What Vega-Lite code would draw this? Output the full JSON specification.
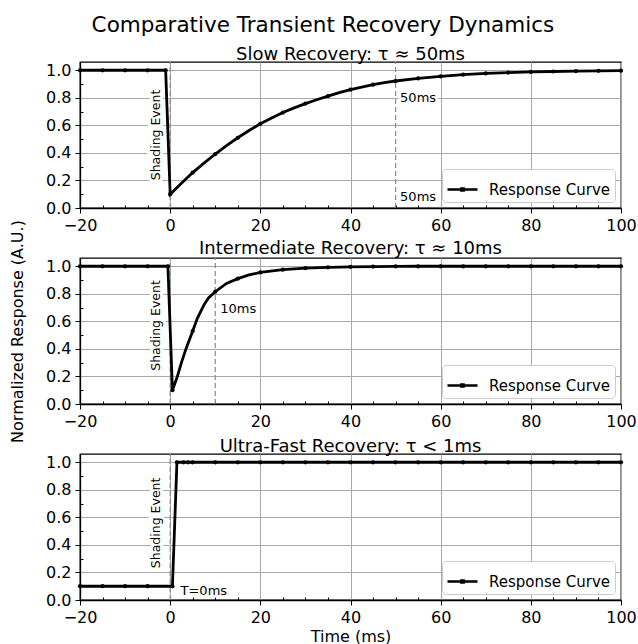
{
  "$schema": "https://vega.github.io/schema/vega-lite/v6.json",
  "padding": {"left": 8, "top": 15, "right": 4, "bottom": 2},
  "title": {"text": "Comparative Transient Recovery Dynamics", "fontSize": 21.5, "anchor": "middle", "offset": 9},
  "bounds": "flush",
  "datasets": {
    "curve": [
      {"panel": "slow", "t": -20, "y": 1.0}, {"panel": "slow", "t": -15, "y": 1.0}, {"panel": "slow", "t": -10, "y": 1.0}, {"panel": "slow", "t": -5, "y": 1.0}, {"panel": "slow", "t": -1, "y": 1.0},
      {"panel": "slow", "t": 0, "y": 0.1}, {"panel": "slow", "t": 2.5, "y": 0.18}, {"panel": "slow", "t": 5, "y": 0.257}, {"panel": "slow", "t": 7.5, "y": 0.326}, {"panel": "slow", "t": 10, "y": 0.392},
      {"panel": "slow", "t": 12.5, "y": 0.453}, {"panel": "slow", "t": 15, "y": 0.51}, {"panel": "slow", "t": 17.5, "y": 0.563}, {"panel": "slow", "t": 20, "y": 0.611}, {"panel": "slow", "t": 22.5, "y": 0.653},
      {"panel": "slow", "t": 25, "y": 0.693}, {"panel": "slow", "t": 27.5, "y": 0.727}, {"panel": "slow", "t": 30, "y": 0.758}, {"panel": "slow", "t": 32.5, "y": 0.786}, {"panel": "slow", "t": 35, "y": 0.812},
      {"panel": "slow", "t": 37.5, "y": 0.837}, {"panel": "slow", "t": 40, "y": 0.859}, {"panel": "slow", "t": 42.5, "y": 0.878}, {"panel": "slow", "t": 45, "y": 0.895}, {"panel": "slow", "t": 47.5, "y": 0.91},
      {"panel": "slow", "t": 50, "y": 0.922}, {"panel": "slow", "t": 55, "y": 0.941}, {"panel": "slow", "t": 60, "y": 0.956}, {"panel": "slow", "t": 65, "y": 0.968}, {"panel": "slow", "t": 70, "y": 0.977},
      {"panel": "slow", "t": 75, "y": 0.983}, {"panel": "slow", "t": 80, "y": 0.988}, {"panel": "slow", "t": 85, "y": 0.991}, {"panel": "slow", "t": 90, "y": 0.994}, {"panel": "slow", "t": 95, "y": 0.996}, {"panel": "slow", "t": 100, "y": 0.997},
      {"panel": "mid", "t": -20, "y": 1.0}, {"panel": "mid", "t": -15, "y": 1.0}, {"panel": "mid", "t": -10, "y": 1.0}, {"panel": "mid", "t": -5, "y": 1.0}, {"panel": "mid", "t": -0.5, "y": 1.0},
      {"panel": "mid", "t": 0.5, "y": 0.1}, {"panel": "mid", "t": 1.5, "y": 0.19}, {"panel": "mid", "t": 2.5, "y": 0.3}, {"panel": "mid", "t": 3.5, "y": 0.4}, {"panel": "mid", "t": 5, "y": 0.53},
      {"panel": "mid", "t": 6, "y": 0.62}, {"panel": "mid", "t": 7.5, "y": 0.72}, {"panel": "mid", "t": 8.5, "y": 0.77}, {"panel": "mid", "t": 10, "y": 0.815}, {"panel": "mid", "t": 12.5, "y": 0.875},
      {"panel": "mid", "t": 15, "y": 0.91}, {"panel": "mid", "t": 17.5, "y": 0.937}, {"panel": "mid", "t": 20, "y": 0.955}, {"panel": "mid", "t": 25, "y": 0.975}, {"panel": "mid", "t": 30, "y": 0.986},
      {"panel": "mid", "t": 35, "y": 0.992}, {"panel": "mid", "t": 40, "y": 0.996}, {"panel": "mid", "t": 45, "y": 0.998}, {"panel": "mid", "t": 50, "y": 0.999}, {"panel": "mid", "t": 55, "y": 1.0},
      {"panel": "mid", "t": 60, "y": 1.0}, {"panel": "mid", "t": 65, "y": 1.0}, {"panel": "mid", "t": 70, "y": 1.0}, {"panel": "mid", "t": 75, "y": 1.0}, {"panel": "mid", "t": 80, "y": 1.0},
      {"panel": "mid", "t": 85, "y": 1.0}, {"panel": "mid", "t": 90, "y": 1.0}, {"panel": "mid", "t": 95, "y": 1.0}, {"panel": "mid", "t": 100, "y": 1.0},
      {"panel": "fast", "t": -20, "y": 0.1}, {"panel": "fast", "t": -15, "y": 0.1}, {"panel": "fast", "t": -10, "y": 0.1}, {"panel": "fast", "t": -5, "y": 0.1}, {"panel": "fast", "t": 0.5, "y": 0.1},
      {"panel": "fast", "t": 1.5, "y": 1.0}, {"panel": "fast", "t": 3, "y": 1.0}, {"panel": "fast", "t": 4, "y": 1.0}, {"panel": "fast", "t": 5, "y": 1.0}, {"panel": "fast", "t": 10, "y": 1.0},
      {"panel": "fast", "t": 15, "y": 1.0}, {"panel": "fast", "t": 20, "y": 1.0}, {"panel": "fast", "t": 25, "y": 1.0}, {"panel": "fast", "t": 30, "y": 1.0}, {"panel": "fast", "t": 35, "y": 1.0},
      {"panel": "fast", "t": 40, "y": 1.0}, {"panel": "fast", "t": 45, "y": 1.0}, {"panel": "fast", "t": 50, "y": 1.0}, {"panel": "fast", "t": 55, "y": 1.0}, {"panel": "fast", "t": 60, "y": 1.0},
      {"panel": "fast", "t": 65, "y": 1.0}, {"panel": "fast", "t": 70, "y": 1.0}, {"panel": "fast", "t": 75, "y": 1.0}, {"panel": "fast", "t": 80, "y": 1.0}, {"panel": "fast", "t": 85, "y": 1.0},
      {"panel": "fast", "t": 90, "y": 1.0}, {"panel": "fast", "t": 95, "y": 1.0}, {"panel": "fast", "t": 100, "y": 1.0}
    ],
    "vlines": [
      {"panel": "slow", "t": 0, "ymin": 0, "ymax": 1.06}, {"panel": "slow", "t": 50, "ymin": 0, "ymax": 1.06},
      {"panel": "mid", "t": 0, "ymin": 0, "ymax": 1.06}, {"panel": "mid", "t": 10, "ymin": 0, "ymax": 1.06},
      {"panel": "fast", "t": 0, "ymin": 0, "ymax": 1.06}
    ],
    "vnotes": [
      {"panel": "slow", "t": -3.1, "y": 0.53, "label": "Shading Event"},
      {"panel": "mid", "t": -3.1, "y": 0.57, "label": "Shading Event"},
      {"panel": "fast", "t": -3.1, "y": 0.56, "label": "Shading Event"}
    ],
    "hnotes": [
      {"panel": "slow", "t": 51, "y": 0.8, "label": "50ms"},
      {"panel": "slow", "t": 51, "y": 0.08, "label": "50ms"},
      {"panel": "mid", "t": 11.1, "y": 0.69, "label": "10ms"},
      {"panel": "fast", "t": 2.3, "y": 0.067, "label": "T=0ms"}
    ]
  },
  "spacing": 50,
  "resolve": {"scale": {"color": "independent"}, "legend": {"color": "independent"}},
  "vconcat": [
    {
      "title": {"text": "Slow Recovery: τ ≈ 50ms", "offset": -3},
      "width": 541, "height": 146,
      "encoding": {
        "x": {"field": "t", "type": "quantitative", "scale": {"domain": [-20, 100], "nice": false},
              "axis": {"title": null, "values": [-20,-15,-10,-5,0,5,10,15,20,25,30,35,40,45,50,55,60,65,70,75,80,85,90,95,100],
                       "labelExpr": "datum.value % 20 === 0 ? datum.label : ''",
                       "tickSize": {"condition": {"test": "datum.value % 20 === 0", "value": 5}, "value": -3},
                       "gridOpacity": {"condition": {"test": "datum.value % 20 === 0", "value": 1}, "value": 0}}},
        "y": {"field": "y", "type": "quantitative", "scale": {"domain": [0, 1.06], "nice": false},
              "axis": {"title": null, "values": [0,0.1,0.2,0.3,0.4,0.5,0.6,0.7,0.8,0.9,1.0],
                       "labelExpr": "round(datum.value*10) % 2 === 0 ? format(datum.value, '.1f') : ''",
                       "tickSize": {"condition": {"test": "round(datum.value*10) % 2 === 0", "value": 5}, "value": -3},
                       "gridOpacity": {"condition": {"test": "round(datum.value*10) % 2 === 0", "value": 1}, "value": 0}}}
      },
      "layer": [
        {"data": {"name": "vlines"}, "transform": [{"filter": "datum.panel === 'slow'"}],
         "mark": {"type": "rule", "color": "#8a8a8a", "strokeDash": [5, 3], "strokeWidth": 1.2},
         "encoding": {"y": {"field": "ymin", "type": "quantitative"}, "y2": {"field": "ymax"}}},
        {"data": {"name": "vnotes"}, "transform": [{"filter": "datum.panel === 'slow'"}],
         "mark": {"type": "text", "angle": 270, "fontSize": 12.5, "stroke": "white", "strokeWidth": 6, "align": "center", "baseline": "middle"},
         "encoding": {"text": {"field": "label"}}},
        {"data": {"name": "hnotes"}, "transform": [{"filter": "datum.panel === 'slow'"}],
         "mark": {"type": "text", "fontSize": 13, "stroke": "white", "strokeWidth": 5, "align": "left", "baseline": "middle"},
         "encoding": {"text": {"field": "label"}}},
        {"data": {"name": "vnotes"}, "transform": [{"filter": "datum.panel === 'slow'"}],
         "mark": {"type": "text", "angle": 270, "fontSize": 12.5, "color": "black", "align": "center", "baseline": "middle"},
         "encoding": {"text": {"field": "label"}}},
        {"data": {"name": "hnotes"}, "transform": [{"filter": "datum.panel === 'slow'"}],
         "mark": {"type": "text", "fontSize": 13, "color": "black", "align": "left", "baseline": "middle"},
         "encoding": {"text": {"field": "label"}}},
        {"data": {"name": "curve"}, "transform": [{"filter": "datum.panel === 'slow'"}],
         "mark": {"type": "line", "strokeWidth": 2.8},
         "encoding": {"color": {"datum": "Response Curve", "scale": {"range": ["black"]}, "legend": {"title": null}}}},
        {"data": {"name": "curve"}, "transform": [{"filter": "datum.panel === 'slow'"}, {"filter": "datum.t % 5 === 0 || abs(datum.t) <= 1"}],
         "mark": {"type": "point", "filled": true, "size": 18, "color": "black", "opacity": 1},
         "encoding": {}}
      ]
    },
    {
      "title": {"text": "Intermediate Recovery: τ ≈ 10ms", "offset": -38},
      "width": 541, "height": 146,
      "encoding": {
        "x": {"field": "t", "type": "quantitative", "scale": {"domain": [-20, 100], "nice": false},
              "axis": {"title": null, "values": [-20,-15,-10,-5,0,5,10,15,20,25,30,35,40,45,50,55,60,65,70,75,80,85,90,95,100],
                       "labelExpr": "datum.value % 20 === 0 ? datum.label : ''",
                       "tickSize": {"condition": {"test": "datum.value % 20 === 0", "value": 5}, "value": -3},
                       "gridOpacity": {"condition": {"test": "datum.value % 20 === 0", "value": 1}, "value": 0}}},
        "y": {"field": "y", "type": "quantitative", "scale": {"domain": [0, 1.06], "nice": false},
              "axis": {"title": "Normalized Response (A.U.)", "titlePadding": 20, "values": [0,0.1,0.2,0.3,0.4,0.5,0.6,0.7,0.8,0.9,1.0],
                       "labelExpr": "round(datum.value*10) % 2 === 0 ? format(datum.value, '.1f') : ''",
                       "tickSize": {"condition": {"test": "round(datum.value*10) % 2 === 0", "value": 5}, "value": -3},
                       "gridOpacity": {"condition": {"test": "round(datum.value*10) % 2 === 0", "value": 1}, "value": 0}}}
      },
      "layer": [
        {"data": {"name": "vlines"}, "transform": [{"filter": "datum.panel === 'mid'"}],
         "mark": {"type": "rule", "color": "#8a8a8a", "strokeDash": [5, 3], "strokeWidth": 1.2},
         "encoding": {"y": {"field": "ymin", "type": "quantitative"}, "y2": {"field": "ymax"}}},
        {"data": {"name": "vnotes"}, "transform": [{"filter": "datum.panel === 'mid'"}],
         "mark": {"type": "text", "angle": 270, "fontSize": 12.5, "stroke": "white", "strokeWidth": 6, "align": "center", "baseline": "middle"},
         "encoding": {"text": {"field": "label"}}},
        {"data": {"name": "hnotes"}, "transform": [{"filter": "datum.panel === 'mid'"}],
         "mark": {"type": "text", "fontSize": 13, "stroke": "white", "strokeWidth": 5, "align": "left", "baseline": "middle"},
         "encoding": {"text": {"field": "label"}}},
        {"data": {"name": "vnotes"}, "transform": [{"filter": "datum.panel === 'mid'"}],
         "mark": {"type": "text", "angle": 270, "fontSize": 12.5, "color": "black", "align": "center", "baseline": "middle"},
         "encoding": {"text": {"field": "label"}}},
        {"data": {"name": "hnotes"}, "transform": [{"filter": "datum.panel === 'mid'"}],
         "mark": {"type": "text", "fontSize": 13, "color": "black", "align": "left", "baseline": "middle"},
         "encoding": {"text": {"field": "label"}}},
        {"data": {"name": "curve"}, "transform": [{"filter": "datum.panel === 'mid'"}],
         "mark": {"type": "line", "strokeWidth": 2.8},
         "encoding": {"color": {"datum": "Response Curve", "scale": {"range": ["black"]}, "legend": {"title": null}}}},
        {"data": {"name": "curve"}, "transform": [{"filter": "datum.panel === 'mid'"}, {"filter": "datum.t % 5 === 0 || abs(datum.t) <= 1"}],
         "mark": {"type": "point", "filled": true, "size": 18, "color": "black", "opacity": 1},
         "encoding": {}}
      ]
    },
    {
      "title": {"text": "Ultra-Fast Recovery: τ < 1ms", "offset": -3},
      "width": 541, "height": 146,
      "encoding": {
        "x": {"field": "t", "type": "quantitative", "scale": {"domain": [-20, 100], "nice": false},
              "axis": {"title": "Time (ms)", "titlePadding": 3, "values": [-20,-15,-10,-5,0,5,10,15,20,25,30,35,40,45,50,55,60,65,70,75,80,85,90,95,100],
                       "labelExpr": "datum.value % 20 === 0 ? datum.label : ''",
                       "tickSize": {"condition": {"test": "datum.value % 20 === 0", "value": 5}, "value": -3},
                       "gridOpacity": {"condition": {"test": "datum.value % 20 === 0", "value": 1}, "value": 0}}},
        "y": {"field": "y", "type": "quantitative", "scale": {"domain": [0, 1.06], "nice": false},
              "axis": {"title": null, "values": [0,0.1,0.2,0.3,0.4,0.5,0.6,0.7,0.8,0.9,1.0],
                       "labelExpr": "round(datum.value*10) % 2 === 0 ? format(datum.value, '.1f') : ''",
                       "tickSize": {"condition": {"test": "round(datum.value*10) % 2 === 0", "value": 5}, "value": -3},
                       "gridOpacity": {"condition": {"test": "round(datum.value*10) % 2 === 0", "value": 1}, "value": 0}}}
      },
      "layer": [
        {"data": {"name": "vlines"}, "transform": [{"filter": "datum.panel === 'fast'"}],
         "mark": {"type": "rule", "color": "#8a8a8a", "strokeDash": [5, 3], "strokeWidth": 1.2},
         "encoding": {"y": {"field": "ymin", "type": "quantitative"}, "y2": {"field": "ymax"}}},
        {"data": {"name": "vnotes"}, "transform": [{"filter": "datum.panel === 'fast'"}],
         "mark": {"type": "text", "angle": 270, "fontSize": 12.5, "stroke": "white", "strokeWidth": 6, "align": "center", "baseline": "middle"},
         "encoding": {"text": {"field": "label"}}},
        {"data": {"name": "hnotes"}, "transform": [{"filter": "datum.panel === 'fast'"}],
         "mark": {"type": "text", "fontSize": 13, "stroke": "white", "strokeWidth": 5, "align": "left", "baseline": "middle"},
         "encoding": {"text": {"field": "label"}}},
        {"data": {"name": "vnotes"}, "transform": [{"filter": "datum.panel === 'fast'"}],
         "mark": {"type": "text", "angle": 270, "fontSize": 12.5, "color": "black", "align": "center", "baseline": "middle"},
         "encoding": {"text": {"field": "label"}}},
        {"data": {"name": "hnotes"}, "transform": [{"filter": "datum.panel === 'fast'"}],
         "mark": {"type": "text", "fontSize": 13, "color": "black", "align": "left", "baseline": "middle"},
         "encoding": {"text": {"field": "label"}}},
        {"data": {"name": "curve"}, "transform": [{"filter": "datum.panel === 'fast'"}],
         "mark": {"type": "line", "strokeWidth": 2.8},
         "encoding": {"color": {"datum": "Response Curve", "scale": {"range": ["black"]}, "legend": {"title": null}}}},
        {"data": {"name": "curve"}, "transform": [{"filter": "datum.panel === 'fast'"}, {"filter": "datum.t < 5 || datum.t % 5 === 0"}],
         "mark": {"type": "point", "filled": true, "size": 18, "color": "black", "opacity": 1},
         "encoding": {}}
      ]
    }
  ],
  "config": {
    "font": "DejaVu Sans",
    "view": {"stroke": "black", "strokeWidth": 1.3},
    "axis": {"labelFont": "DejaVu Sans", "labelFontSize": 16, "labelColor": "black", "titleFont": "DejaVu Sans", "titleFontSize": 16, "titleFontWeight": "normal", "titleColor": "black", "domainColor": "black", "domainWidth": 1.3, "tickColor": "black", "tickWidth": 1, "gridColor": "#a8a8a8", "gridWidth": 1, "labelPadding": 4, "labelOverlap": false, "labelFlush": false},
    "title": {"font": "DejaVu Sans", "fontSize": 18, "fontWeight": "normal", "color": "black", "offset": 4},
    "legend": {"orient": "bottom-right", "offset": 6, "padding": 4, "fillColor": "white", "strokeColor": "#cccccc", "cornerRadius": 4, "labelFont": "DejaVu Sans", "labelFontSize": 15, "labelColor": "black", "labelOffset": 10, "symbolType": "M-1,0H1M-0.07,-0.07H0.07V0.07H-0.07Z", "symbolStrokeWidth": 2.6, "symbolSize": 900, "symbolStrokeColor": "black", "symbolFillColor": "black"}
  }
}
